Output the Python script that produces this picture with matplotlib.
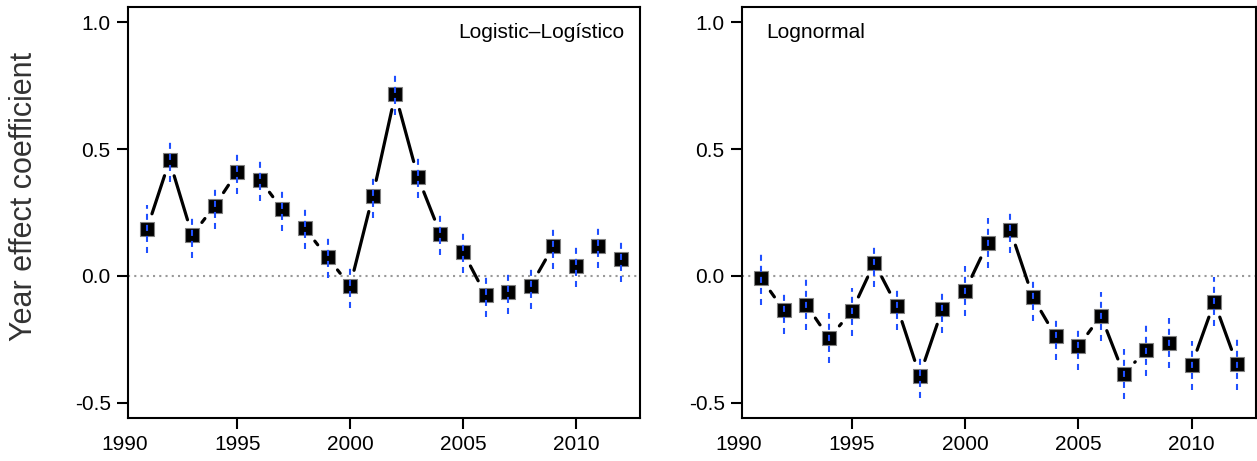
import numpy as np
import matplotlib
matplotlib.use("Agg")
import matplotlib.pyplot as plt
from matplotlib.ticker import FormatStrFormatter

plt.rcParams['font.family'] = ['Liberation Sans', 'DejaVu Sans']
plt.rcParams['axes.unicode_minus'] = False

years = np.arange(1991, 2013)

# Logistic-Logistico panel: estimate and interval ends
logis_est = [0.185, 0.455, 0.161, 0.276, 0.410, 0.380, 0.262, 0.187, 0.073, -0.039, 0.315,
             0.717, 0.390, 0.165, 0.095, -0.075, -0.062, -0.039, 0.118, 0.040, 0.119, 0.067]
logis_lo = [0.091, 0.370, 0.071, 0.185, 0.322, 0.296, 0.177, 0.106, -0.008, -0.126, 0.228,
            0.636, 0.307, 0.082, 0.013, -0.160, -0.149, -0.130, 0.027, -0.043, 0.031, -0.024]
logis_hi = [0.279, 0.527, 0.228, 0.345, 0.479, 0.455, 0.335, 0.263, 0.149, 0.031, 0.385,
            0.793, 0.467, 0.240, 0.174, -0.003, 0.008, 0.031, 0.188, 0.114, 0.188, 0.133]

# Lognormal panel
lnorm_est = [-0.009, -0.134, -0.114, -0.245, -0.140, 0.052, -0.120, -0.393, -0.131, -0.059, 0.128,
             0.181, -0.085, -0.238, -0.278, -0.157, -0.386, -0.293, -0.264, -0.352, -0.103, -0.349]
lnorm_lo = [-0.114, -0.228, -0.215, -0.342, -0.238, -0.042, -0.215, -0.483, -0.224, -0.157, 0.031,
            0.091, -0.179, -0.333, -0.369, -0.258, -0.484, -0.395, -0.362, -0.450, -0.199, -0.450]
lnorm_hi = [0.092, -0.067, -0.012, -0.145, -0.046, 0.119, -0.051, -0.322, -0.062, 0.039, 0.229,
            0.250, -0.016, -0.170, -0.208, -0.062, -0.288, -0.192, -0.166, -0.258, -0.003, -0.247]

xticks = [1995, 2000, 2005, 2010]
yticks = [-0.5, 0.0, 0.5, 1.0]

blue = '#2050ff'
fs = 15
tick_len = 8
tick_pad = 4.5


def draw_gapped(ax, x, y, gap_px=16, **kw):
    # R style type="b": connect points but leave a gap around each point
    tr = ax.transData
    pts = tr.transform(np.column_stack([x, y]))
    inv = tr.inverted()
    for p0, p1 in zip(pts[:-1], pts[1:]):
        d = p1 - p0
        length = np.hypot(d[0], d[1])
        if length <= 2 * gap_px:
            continue
        u = d / length
        a = inv.transform(p0 + u * gap_px)
        b = inv.transform(p1 - u * gap_px)
        ax.plot([a[0], b[0]], [a[1], b[1]], **kw)


def panel(ax, est, lo, hi, label, label_x, ha):
    ax.set_xlim(1990.16, 2012.84)
    ax.set_ylim(-0.56, 1.06)
    ax.axhline(0, color='#999999', lw=1.5, ls=(0, (1, 2)), zorder=1)
    draw_gapped(ax, years, est, color='black', lw=2.3, solid_capstyle='round', zorder=2)
    ax.plot(years, est, 's', color='black', ms=9.5, mec='#808080', mew=0.8, zorder=3)
    ax.vlines(years, lo, hi, colors=blue, lw=1.5, linestyles=(0, (2.9, 2.4)), zorder=4)

    ax.set_xticks(xticks)
    ax.set_yticks(yticks)
    ax.yaxis.set_major_formatter(FormatStrFormatter('%.1f'))
    ax.tick_params(length=tick_len, width=1.5, labelsize=fs, pad=tick_pad)
    for s in ax.spines.values():
        s.set_linewidth(1.5)
    ax.annotate('1990', xy=(1990, 0), xycoords=('data', 'axes fraction'),
                xytext=(0, -(tick_len + tick_pad)), textcoords='offset points',
                ha='center', va='top', fontsize=fs, annotation_clip=False)
    ax.text(label_x, 0.925, label, transform=ax.transAxes, ha=ha, va='baseline', fontsize=fs)


fig = plt.figure(figsize=(12.57, 4.61), dpi=100)
ax1 = fig.add_axes([128 / 1257, 43 / 461, 512 / 1257, 411 / 461])
ax2 = fig.add_axes([742 / 1257, 43 / 461, 514 / 1257, 411 / 461])

panel(ax1, logis_est, logis_lo, logis_hi, 'Logistic\u2013Logístico', 0.969, 'right')
panel(ax2, lnorm_est, lnorm_lo, lnorm_hi, 'Lognormal', 0.047, 'left')

fig.text(24 / 1257, 1 - 196 / 461, 'Year effect coefficient', rotation=90,
         ha='center', va='center', fontsize=22, color='#333333')

fig.savefig('out.png', dpi=100)
